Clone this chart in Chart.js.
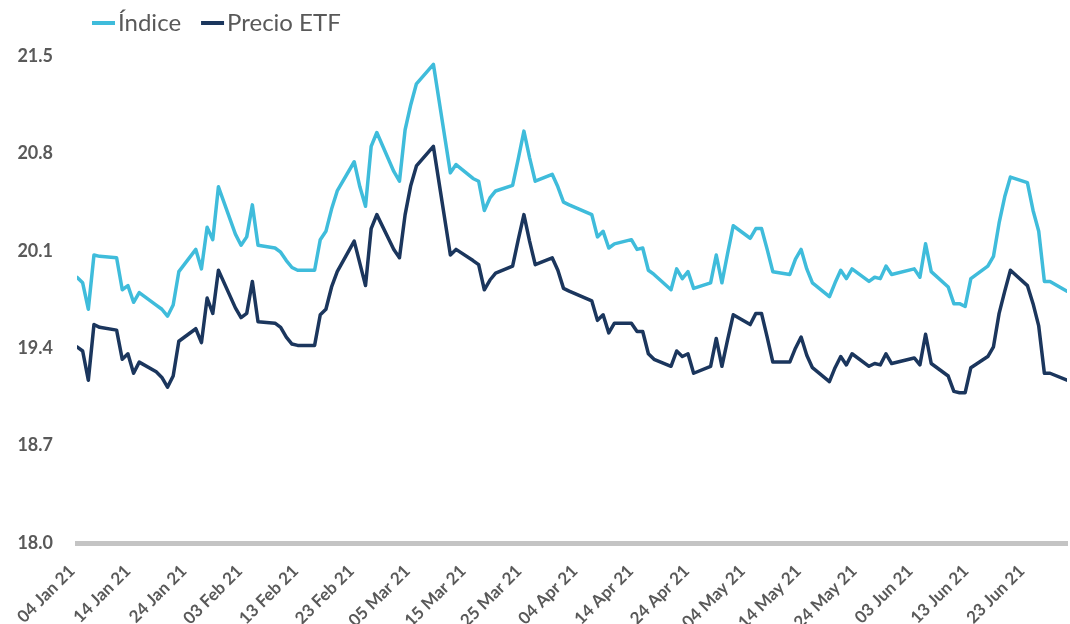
<!DOCTYPE html>
<html lang="es">
<head>
<meta charset="utf-8">
<title>Índice vs Precio ETF</title>
<script src="https://cdn.jsdelivr.net/npm/chart.js@4.4.1/dist/chart.umd.min.js"></script>
<style>
  html, body { margin: 0; padding: 0; background: #fff; }
  #wrap { width: 1070px; height: 624px; }
</style>
</head>
<body>
<div id="wrap"><canvas id="chart" width="1070" height="624"></canvas></div>
<script>
// Trading days (no data on 02 Apr and 31 May)
var dates = [
  '2021-01-04','2021-01-05','2021-01-06','2021-01-07','2021-01-08',
  '2021-01-11','2021-01-12','2021-01-13','2021-01-14','2021-01-15',
  '2021-01-18','2021-01-19','2021-01-20','2021-01-21','2021-01-22',
  '2021-01-25','2021-01-26','2021-01-27','2021-01-28','2021-01-29',
  '2021-02-01','2021-02-02','2021-02-03','2021-02-04','2021-02-05',
  '2021-02-08','2021-02-09','2021-02-10','2021-02-11','2021-02-12',
  '2021-02-15','2021-02-16','2021-02-17','2021-02-18','2021-02-19',
  '2021-02-22','2021-02-23','2021-02-24','2021-02-25','2021-02-26',
  '2021-03-01','2021-03-02','2021-03-03','2021-03-04','2021-03-05',
  '2021-03-08','2021-03-09','2021-03-10','2021-03-11','2021-03-12',
  '2021-03-15','2021-03-16','2021-03-17','2021-03-18','2021-03-19',
  '2021-03-22','2021-03-23','2021-03-24','2021-03-25','2021-03-26',
  '2021-03-29','2021-03-30','2021-03-31','2021-04-01',
  '2021-04-05','2021-04-06','2021-04-07','2021-04-08','2021-04-09',
  '2021-04-12','2021-04-13','2021-04-14','2021-04-15','2021-04-16',
  '2021-04-19','2021-04-20','2021-04-21','2021-04-22','2021-04-23',
  '2021-04-26','2021-04-27','2021-04-28','2021-04-29','2021-04-30',
  '2021-05-03','2021-05-04','2021-05-05','2021-05-06','2021-05-07',
  '2021-05-10','2021-05-11','2021-05-12','2021-05-13','2021-05-14',
  '2021-05-17','2021-05-18','2021-05-19','2021-05-20','2021-05-21',
  '2021-05-24','2021-05-25','2021-05-26','2021-05-27','2021-05-28',
  '2021-06-01','2021-06-02','2021-06-03','2021-06-04',
  '2021-06-07','2021-06-08','2021-06-09','2021-06-10','2021-06-11',
  '2021-06-14','2021-06-15','2021-06-16','2021-06-17','2021-06-18',
  '2021-06-21','2021-06-22','2021-06-23','2021-06-24','2021-06-25',
  '2021-06-28'
];

var indice = [
  19.91, 19.87, 19.68, 20.07, 20.06,
  20.05, 19.82, 19.85, 19.73, 19.80,
  19.71, 19.68, 19.63, 19.71, 19.95,
  20.11, 19.97, 20.27, 20.18, 20.56,
  20.22, 20.14, 20.20, 20.43, 20.14,
  20.12, 20.09, 20.03, 19.98, 19.96,
  19.96, 20.18, 20.24, 20.40, 20.53,
  20.74, 20.56, 20.42, 20.85, 20.95,
  20.67, 20.60, 20.97, 21.15, 21.30,
  21.44, 21.18, 20.92, 20.66, 20.72,
  20.62, 20.60, 20.39, 20.48, 20.53,
  20.57, 20.76, 20.96, 20.77, 20.60,
  20.65, 20.56, 20.45, 20.43,
  20.36, 20.20, 20.24, 20.12, 20.15,
  20.18, 20.11, 20.12, 19.96, 19.93,
  19.82, 19.97, 19.90, 19.95, 19.83,
  19.87, 20.07, 19.87, 20.08, 20.28,
  20.19, 20.26, 20.26, 20.11, 19.95,
  19.93, 20.04, 20.11, 19.97, 19.87,
  19.77, 19.87, 19.96, 19.90, 19.97,
  19.88, 19.91, 19.90, 19.99, 19.93,
  19.97, 19.91, 20.15, 19.95,
  19.84, 19.72, 19.72, 19.70, 19.90,
  19.99, 20.06, 20.30, 20.49, 20.63,
  20.59, 20.39, 20.24, 19.88, 19.88,
  19.81
];

var precioEtf = [
  19.41, 19.38, 19.17, 19.57, 19.55,
  19.53, 19.32, 19.36, 19.22, 19.30,
  19.23, 19.19, 19.12, 19.20, 19.45,
  19.54, 19.44, 19.76, 19.65, 19.96,
  19.69, 19.62, 19.65, 19.88, 19.59,
  19.58, 19.55, 19.48, 19.43, 19.42,
  19.42, 19.64, 19.68, 19.84, 19.95,
  20.17, 20.01, 19.85, 20.26, 20.36,
  20.11, 20.05, 20.36, 20.57, 20.71,
  20.85, 20.59, 20.33, 20.07, 20.11,
  20.03, 20.00, 19.82, 19.89, 19.94,
  19.99, 20.18, 20.36, 20.17, 20.00,
  20.05, 19.96, 19.83, 19.81,
  19.74, 19.60, 19.64, 19.51, 19.58,
  19.58, 19.52, 19.52, 19.36, 19.32,
  19.27, 19.38, 19.34, 19.36, 19.22,
  19.27, 19.47, 19.27, 19.46, 19.64,
  19.57, 19.65, 19.65, 19.48, 19.30,
  19.30, 19.40, 19.48, 19.35, 19.26,
  19.16, 19.26, 19.34, 19.28, 19.36,
  19.27, 19.29, 19.28, 19.36, 19.29,
  19.33, 19.28, 19.50, 19.29,
  19.20, 19.09, 19.08, 19.08, 19.26,
  19.34, 19.41, 19.65, 19.81, 19.96,
  19.85, 19.72, 19.56, 19.22, 19.22,
  19.17
];

// x tick labels, one every 10 calendar days from 04 Jan
var xTickLabels = ['04 Jan 21', '14 Jan 21', '24 Jan 21', '03 Feb 21', '13 Feb 21', '23 Feb 21',
  '05 Mar 21', '15 Mar 21', '25 Mar 21', '04 Apr 21', '14 Apr 21', '24 Apr 21',
  '04 May 21', '14 May 21', '24 May 21', '03 Jun 21', '13 Jun 21', '23 Jun 21'];
var yTicks = [18.0, 18.7, 19.4, 20.1, 20.8, 21.5];

var seriesNames = ['Índice', 'Precio ETF'];
var seriesColors = ['#3FBCDB', '#1B365D'];
var textColor = '#595959';

// the source chart spaces its date labels slightly tighter than its data
var labelSpacing = 9.876;

// days since 04 Jan 21
var start = Date.UTC(2021, 0, 4);
function dayNo(s) {
  var p = s.split('-');
  return (Date.UTC(+p[0], +p[1] - 1, +p[2]) - start) / 86400000;
}
function toPoints(values) {
  return values.map(function (v, i) { return { x: dayNo(dates[i]), y: v }; });
}

// Legend: line sample butted against the text
var lineLegend = {
  id: 'lineLegend',
  afterDraw: function (chart) {
    var ctx = chart.ctx;
    var x = 92, y = 23;
    ctx.save();
    ctx.font = '24px Lato';
    ctx.textBaseline = 'middle';
    chart.data.datasets.forEach(function (ds) {
      ctx.strokeStyle = ds.borderColor;
      ctx.lineWidth = 4;
      ctx.beginPath();
      ctx.moveTo(x, y);
      ctx.lineTo(x + 23, y);
      ctx.stroke();
      x += 26;
      ctx.fillStyle = textColor;
      ctx.fillText(ds.label, x, y);
      x += ctx.measureText(ds.label).width + 20;
    });
    ctx.restore();
  }
};

Chart.defaults.font.family = 'Lato';
Chart.defaults.color = textColor;

new Chart(document.getElementById('chart'), {
  type: 'line',
  data: {
    datasets: [
      { label: seriesNames[0], data: toPoints(indice), borderColor: seriesColors[0] },
      { label: seriesNames[1], data: toPoints(precioEtf), borderColor: seriesColors[1] }
    ]
  },
  options: {
    responsive: false,
    animation: false,
    layout: { padding: { top: 56, right: 3, bottom: 0, left: 0 } },
    elements: {
      point: { radius: 0 },
      line: { borderWidth: 3.5, tension: 0, borderJoinStyle: 'round', borderCapStyle: 'round' }
    },
    plugins: { legend: { display: false }, tooltip: { enabled: false } },
    scales: {
      x: {
        type: 'linear',
        min: 0,
        max: 175,
        afterBuildTicks: function (s) {
          s.ticks = xTickLabels.map(function (t, i) { return { value: i * labelSpacing }; });
        },
        afterFit: function (s) { s.height = 81; },
        grid: { display: false },
        border: { display: true, color: '#C4C4C4', width: 5 },
        ticks: {
          autoSkip: false,
          minRotation: 45,
          maxRotation: 45,
          padding: 10,
          labelOffset: -5,
          color: textColor,
          font: { size: 17, weight: 'bold' },
          callback: function (v, i) { return xTickLabels[i]; }
        }
      },
      y: {
        min: 18,
        max: 21.5,
        afterBuildTicks: function (s) {
          s.ticks = yTicks.map(function (v) { return { value: v }; });
        },
        afterFit: function (s) { s.width = 77; },
        grid: { display: false },
        border: { display: false },
        ticks: {
          padding: 16,
          color: textColor,
          font: { size: 18, weight: 'bold' },
          callback: function (v) { return v.toFixed(1); }
        }
      }
    }
  },
  plugins: [lineLegend]
});
</script>
</body>
</html>
